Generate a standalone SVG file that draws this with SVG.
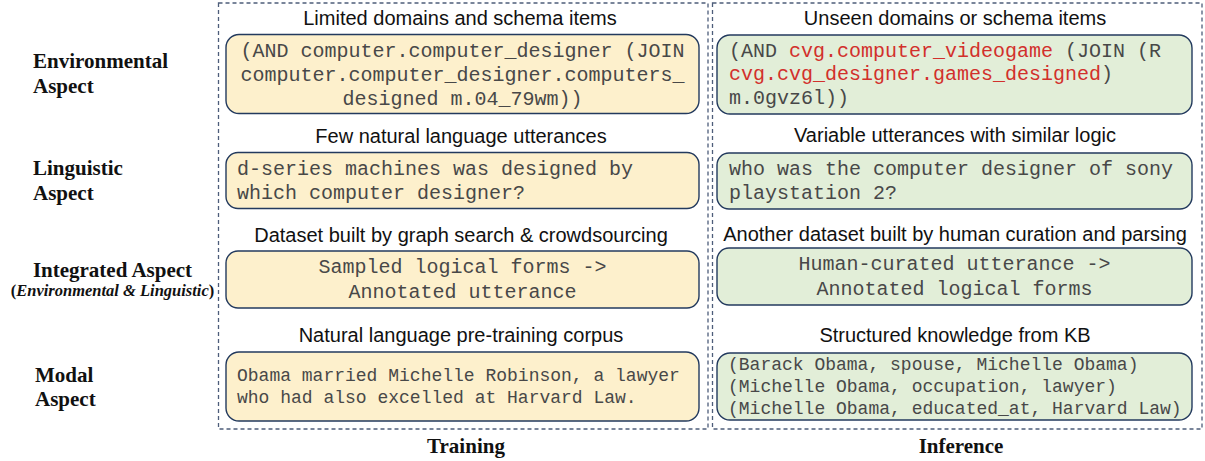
<svg xmlns="http://www.w3.org/2000/svg" width="1205" height="461" viewBox="0 0 1205 461">
<style>
.frame{fill:none;stroke:#4d5d7a;stroke-width:1.3;stroke-dasharray:4 3}
.tb{fill:#fdf0cc;stroke:#233a5e;stroke-width:1.4}
.ib{fill:#e2eed8;stroke:#233a5e;stroke-width:1.4}
.title{font-family:"Liberation Sans",Arial,sans-serif;font-size:20px;fill:#111;text-anchor:middle}
.mono{font-family:"Liberation Mono","Courier New",monospace;font-size:20px;fill:#484848}
.mono18{font-family:"Liberation Mono","Courier New",monospace;font-size:18px;fill:#484848}
.red{fill:#d2302c}
.lab{font-family:"Liberation Serif","Times New Roman",serif;font-size:21px;font-weight:bold;fill:#111}
.sub{font-family:"Liberation Serif","Times New Roman",serif;font-size:16.5px;font-weight:bold;fill:#111}
.mid{text-anchor:middle}
</style>
<rect width="1205" height="461" fill="#fff"/>
<g id="frames">
<rect class="frame" x="218.5" y="3" width="489.5" height="426"/>
<rect class="frame" x="712.5" y="3" width="489.5" height="426"/>
</g>
<g id="labels">
<text class="lab" x="33" y="68">Environmental</text>
<text class="lab" x="33" y="93">Aspect</text>
<text class="lab" x="33" y="175">Linguistic</text>
<text class="lab" x="33" y="200">Aspect</text>
<text class="lab mid" x="112.5" y="277">Integrated Aspect</text>
<text class="sub mid" x="112.5" y="296">(<tspan font-style="italic">Environmental &amp; Linguistic</tspan>)</text>
<text class="lab" x="35" y="382">Modal</text>
<text class="lab" x="35" y="406">Aspect</text>
<text class="lab mid" x="466" y="453">Training</text>
<text class="lab mid" x="961" y="453">Inference</text>
</g>
<g id="train-env">
<text class="title" x="460" y="25">Limited domains and schema items</text>
<rect class="tb" x="226" y="34.5" width="473" height="79" rx="13"/>
<text class="mono mid" x="462.5" y="57">(AND computer.computer_designer (JOIN</text>
<text class="mono mid" x="462.5" y="81">computer.computer_designer.computers_</text>
<text class="mono mid" x="462.5" y="105">designed m.04_79wm))</text>
</g>
<g id="infer-env">
<text class="title" x="955" y="25">Unseen domains or schema items</text>
<rect class="ib" x="717" y="35" width="475" height="79" rx="13"/>
<text class="mono" x="729" y="57">(AND <tspan class="red">cvg.computer_videogame</tspan> (JOIN (R</text>
<text class="mono" x="729" y="80"><tspan class="red">cvg.cvg_designer.games_designed</tspan>)</text>
<text class="mono" x="729" y="104">m.0gvz6l))</text>
</g>
<g id="train-ling">
<text class="title" x="461" y="143">Few natural language utterances</text>
<rect class="tb" x="226" y="152.5" width="473" height="56" rx="12"/>
<text class="mono" x="237" y="175">d-series machines was designed by</text>
<text class="mono" x="237" y="199">which computer designer?</text>
</g>
<g id="infer-ling">
<text class="title" x="955" y="142">Variable utterances with similar logic</text>
<rect class="ib" x="717" y="153" width="475" height="56" rx="12"/>
<text class="mono" x="729" y="175">who was the computer designer of sony</text>
<text class="mono" x="729" y="199">playstation 2?</text>
</g>
<g id="train-int">
<text class="title" x="461" y="242">Dataset built by graph search &amp; crowdsourcing</text>
<rect class="tb" x="226" y="251" width="473" height="57" rx="12"/>
<text class="mono mid" x="462.5" y="273">Sampled logical forms -&gt;</text>
<text class="mono mid" x="462.5" y="298">Annotated utterance</text>
</g>
<g id="infer-int">
<text class="title" x="955" y="241">Another dataset built by human curation and parsing</text>
<rect class="ib" x="717" y="248" width="475" height="57" rx="12"/>
<text class="mono mid" x="954.5" y="270">Human-curated utterance -&gt;</text>
<text class="mono mid" x="954.5" y="295">Annotated logical forms</text>
</g>
<g id="train-modal">
<text class="title" x="461" y="342">Natural language pre-training corpus</text>
<rect class="tb" x="226" y="352" width="473" height="69" rx="13"/>
<text class="mono18" x="237" y="381">Obama married Michelle Robinson, a lawyer</text>
<text class="mono18" x="237" y="403">who had also excelled at Harvard Law.</text>
</g>
<g id="infer-modal">
<text class="title" x="955" y="342">Structured knowledge from KB</text>
<rect class="ib" x="717" y="353" width="475" height="67" rx="13"/>
<text class="mono18" x="728" y="370">(Barack Obama, spouse, Michelle Obama)</text>
<text class="mono18" x="728" y="392">(Michelle Obama, occupation, lawyer)</text>
<text class="mono18" x="728" y="414">(Michelle Obama, educated_at, Harvard Law)</text>
</g>
</svg>
